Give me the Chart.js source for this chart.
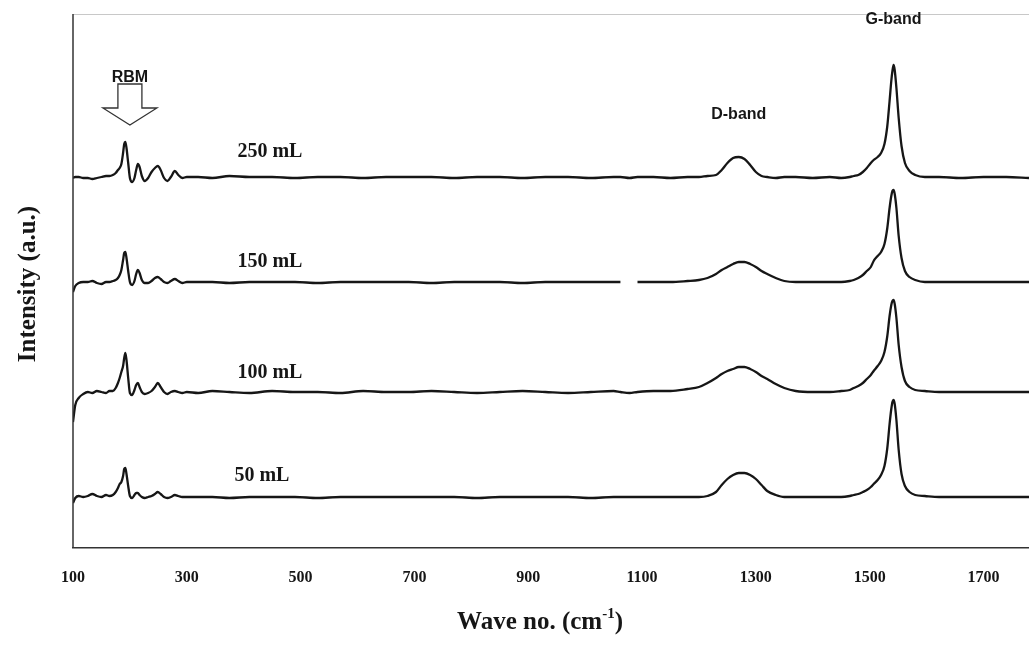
<!DOCTYPE html>
<html>
<head>
<meta charset="utf-8">
<script src="https://cdn.jsdelivr.net/npm/chart.js@4/dist/chart.umd.min.js"></script>
<style>
  html, body { margin: 0; padding: 0; background: #fff; }
  #wrap { width: 1029px; height: 651px; }
</style>
</head>
<body>
<div id="wrap"><canvas id="raman" width="1029" height="651"></canvas></div>
<script>
// Raman shift (cm-1), shared by all four spectra
const waveNo = [
  100, 104, 110, 118, 126, 134, 142, 150, 158, 164,
  170, 175, 179, 182, 185, 188, 190, 192, 194, 197,
  200, 204, 208, 211, 214, 217, 221, 226, 232, 238,
  244, 249, 254, 260, 266, 272, 279, 285, 292, 300,
  320, 345, 375, 410, 450, 490, 530, 570, 610, 650,
  690, 730, 770, 810, 850, 890, 930, 970, 1010, 1050,
  1062, 1078, 1092, 1120, 1150, 1180, 1200, 1215, 1230, 1240,
  1250, 1260, 1270, 1280, 1290, 1300, 1310, 1320, 1335, 1350,
  1370, 1400, 1430, 1450, 1465, 1472, 1480, 1488, 1495, 1502,
  1507, 1514, 1520, 1526, 1531, 1535, 1538, 1540, 1542, 1544,
  1547, 1551, 1556, 1562, 1570, 1580, 1597, 1622, 1660, 1700,
  1740, 1780
];

// stacked intensities (a.u.), as plotted
const int250 = [
  370, 371, 371, 370, 370, 369, 370, 371, 372, 372,
  373, 375, 378, 380, 384, 395, 404, 406, 400, 385,
  370, 366, 370, 378, 384, 381, 372, 367, 370, 376,
  380, 382, 378, 370, 367, 371, 377, 373, 370, 371,
  371, 370, 372, 371, 371, 370, 371, 371, 370, 371,
  371, 371, 370, 371, 371, 370, 371, 371, 370, 371,
  371, 370, 371, 371, 370, 371, 371, 372, 373, 378,
  385, 390, 391, 389, 383, 376, 372, 371, 370, 371,
  371, 370, 371, 370, 371, 372, 373, 376, 380, 385,
  388, 391, 395, 404, 422, 447, 467, 477, 483, 478,
  460, 430, 402, 385, 377, 373, 371, 371, 370, 371,
  371, 370
];
const int150 = [
  256, 262, 265, 266, 266, 267, 265, 264, 266, 266,
  267, 268, 270, 273, 278, 288, 295, 296, 290, 277,
  266, 263, 267, 274, 278, 275, 268, 265, 265, 267,
  270, 271, 269, 266, 265, 267, 269, 267, 265, 266,
  266, 266, 265, 266, 266, 266, 265, 266, 266, 266,
  266, 265, 266, 266, 266, 265, 266, 266, 266, 266,
  266, null, 266, 266, 266, 267, 268, 270, 274, 278,
  281, 284, 286, 286, 284, 281, 277, 274, 270, 267,
  266, 266, 266, 266, 267, 268, 270, 273, 277, 281,
  287, 292, 296, 304, 320, 340, 352, 357, 358, 354,
  340, 312, 290, 277, 271, 268, 266, 266, 266, 266,
  266, 266
];
const int100 = [
  126, 143, 150, 154, 156, 155, 157, 156, 155, 157,
  157, 160, 165, 170, 176, 182, 190, 195, 188, 170,
  155, 153, 158, 163, 165, 161, 156, 154, 155, 157,
  161, 165, 161, 156, 154, 156, 157, 156, 155, 156,
  155, 157, 156, 155, 157, 156, 156, 155, 157, 156,
  156, 157, 156, 155, 156, 157, 156, 155, 156, 157,
  156, 155, 156, 157, 157, 159, 161, 165, 170, 174,
  177, 179, 181, 181, 179, 176, 172, 169, 164, 160,
  157, 156, 156, 157, 158, 160, 162, 165, 169, 173,
  177, 182, 187, 196, 212, 232, 243, 247, 248, 244,
  230, 203, 181, 167, 161, 158, 157, 156, 156, 156,
  156, 156
];
const int50 = [
  45, 50, 52, 51, 52, 54, 52, 51, 53, 52,
  53, 56, 60, 64, 66, 72, 79, 80, 74, 62,
  52, 50, 53, 55, 55, 53, 51, 50, 51, 52,
  54, 56, 54, 51, 50, 51, 53, 52, 51, 51,
  51, 51, 50, 51, 51, 51, 50, 51, 51, 51,
  51, 51, 51, 50, 51, 51, 51, 51, 50, 51,
  51, 51, 51, 51, 51, 51, 51, 52, 56, 63,
  69, 73, 75, 75, 73, 69, 63, 57, 53, 51,
  51, 51, 51, 51, 52, 53, 54, 56, 58, 61,
  64, 68, 73, 82, 100, 124, 139, 146, 148, 144,
  128, 98, 74, 62, 56, 53, 52, 51, 51, 51,
  51, 51
];

const seriesNames = ["250 mL", "150 mL", "100 mL", "50 mL"];
const tickValues = [100, 300, 500, 700, 900, 1100, 1300, 1500, 1700];

const INK = "#161616";
const serif = "'Liberation Serif', 'Times New Roman', serif";
const sans = "'Liberation Sans', Arial, sans-serif";

let toPoints = (vals) => waveNo.map((x, i) => ({ x: x, y: vals[i] }));

// texts, arrow, axes frame and the x axis title
const decorations = {
    id: "decorations",
    afterDraw(chart) {
        const { ctx, chartArea, scales } = chart;
        const px = (v) => scales.x.getPixelForValue(v),
            py = (v) => scales.y.getPixelForValue(v);
        ctx.save();
        // faint top frame
        ctx.strokeStyle = "#c8c8c8";
        ctx.lineWidth = 1;
        ctx.beginPath();
        ctx.moveTo(chartArea.left, chartArea.top + 0.5);
        ctx.lineTo(chartArea.right, chartArea.top + 0.5);
        ctx.stroke();
        // left axis
        ctx.strokeStyle = "#333";
        ctx.lineWidth = 1.5;
        ctx.beginPath();
        ctx.moveTo(chartArea.left, chartArea.top);
        ctx.lineTo(chartArea.left, chartArea.bottom);
        ctx.stroke();

        ctx.fillStyle = INK;
        ctx.textAlign = "center";
        ctx.textBaseline = "middle";
        // series labels
        ctx.font = "bold 20px " + serif;
        const labelPos = [[446, 396], [446, 286], [446, 175], [432, 72]];
        seriesNames.forEach((name, i) => {
            ctx.fillText(name, px(labelPos[i][0]), py(labelPos[i][1]));
        });
        // band labels
        ctx.font = "bold 16px " + sans;
        ctx.fillText("D-band", px(1270), py(433));
        ctx.fillText("G-band", px(1542), py(528));
        ctx.fillText("RBM", px(200), py(470));

        // hollow down arrow over the RBM peaks
        const ax = px(200), top = py(464), mid = py(440), tip = py(423);
        ctx.strokeStyle = "#333";
        ctx.lineWidth = 1.3;
        ctx.fillStyle = "#fff";
        ctx.beginPath();
        ctx.moveTo(ax - 12, top);
        ctx.lineTo(ax + 12, top);
        ctx.lineTo(ax + 12, mid);
        ctx.lineTo(ax + 27, mid);
        ctx.lineTo(ax, tip);
        ctx.lineTo(ax - 27, mid);
        ctx.lineTo(ax - 12, mid);
        ctx.closePath();
        ctx.fill();
        ctx.stroke();

        // x title with superscript
        ctx.fillStyle = INK;
        ctx.textAlign = "left";
        ctx.textBaseline = "alphabetic";
        const base = "Wave no. (cm", sup = "-1", tail = ")";
        ctx.font = "bold 25px " + serif;
        const w1 = ctx.measureText(base).width, w3 = ctx.measureText(tail).width;
        ctx.font = "bold 15px " + serif;
        const w2 = ctx.measureText(sup).width;
        let x0 = 540 - (w1 + w2 + w3) / 2, yb = 629;
        ctx.font = "bold 25px " + serif;
        ctx.fillText(base, x0, yb);
        ctx.font = "bold 15px " + serif;
        ctx.fillText(sup, x0 + w1, yb - 11);
        ctx.font = "bold 25px " + serif;
        ctx.fillText(tail, x0 + w1 + w2, yb);

        // y title
        ctx.translate(29, 284);
        ctx.rotate(-Math.PI / 2);
        ctx.textAlign = "center";
        ctx.textBaseline = "middle";
        ctx.fillText("Intensity (a.u.)", 0, 0);
        ctx.restore();
    }
};

let datasets = [int250, int150, int100, int50].map((vals, i) => ({
    label: seriesNames[i],
    data: toPoints(vals),
    borderColor: INK,
    borderWidth: 2.3,
    pointRadius: 0,
    fill: false,
    spanGaps: false,
    cubicInterpolationMode: "monotone"
}));

new Chart(document.getElementById("raman"), {
    type: "line",
    data: { datasets: datasets },
    options: {
        responsive: false,
        animation: false,
        layout: { padding: { left: 73, top: 14, right: 0, bottom: 0 } },
        plugins: { legend: { display: false }, tooltip: { enabled: false } },
        scales: {
            x: {
                type: "linear",
                min: 100,
                max: 1780,
                grid: { display: false, drawTicks: false },
                border: { display: true, color: "#333", width: 1.5 },
                afterBuildTicks: (axis) => { axis.ticks = tickValues.map(v => ({ value: v })); },
                afterFit: (axis) => { axis.height = 103; },
                ticks: {
                    autoSkip: false,
                    maxRotation: 0,
                    padding: 20,
                    color: INK,
                    font: { family: serif, size: 16, weight: "bold" },
                    callback: (value) => String(value)
                }
            },
            y: {
                display: false,
                min: 0,
                max: 534
            }
        }
    },
    plugins: [decorations]
});
</script>
</body>
</html>
